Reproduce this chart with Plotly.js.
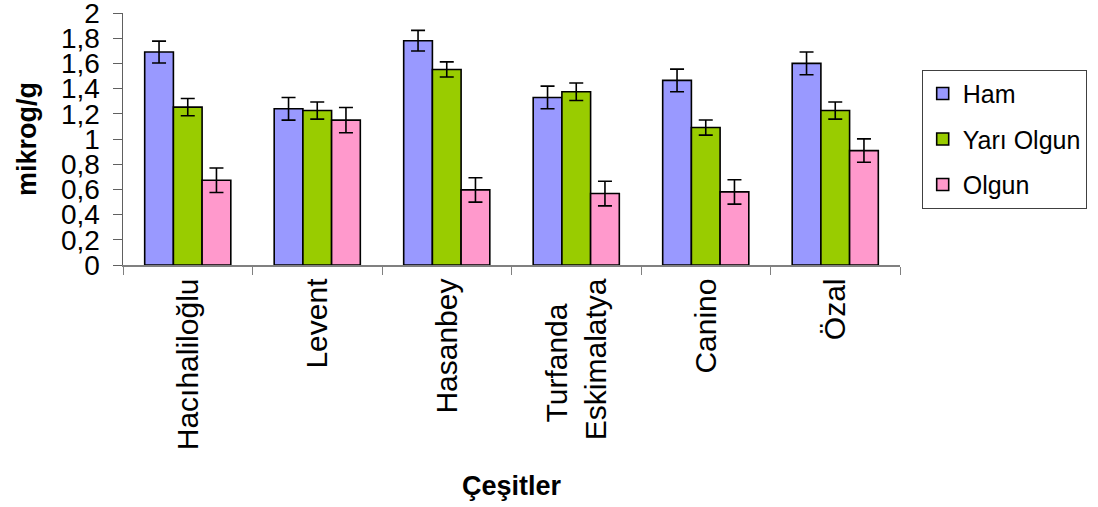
<!DOCTYPE html>
<html>
<head>
<meta charset="utf-8">
<script src="https://cdn.plot.ly/plotly-3.0.1.min.js"></script>
<style>html,body{margin:0;padding:0;background:#fff;}#chart{width:1098px;height:507px;}</style>
</head>
<body>
<div id="chart"></div>
<script>
const categories = ["Hacıhaliloğlu", "Levent", "Hasanbey", "Turfanda\u00A0\u00A0\u00A0<br>Eskimalatya", "Canino", "Özal"];
const seriesNames = ["Ham", "Yarı Olgun", "Olgun"];
const hamValues = [1.69, 1.24, 1.78, 1.33, 1.465, 1.60];
const hamErrors = [0.087, 0.09, 0.082, 0.09, 0.09, 0.09];
const yariValues = [1.253, 1.226, 1.552, 1.375, 1.091, 1.226];
const yariErrors = [0.068, 0.068, 0.06, 0.069, 0.06, 0.068];
const olgunValues = [0.673, 1.15, 0.596, 0.567, 0.58, 0.908];
const olgunErrors = [0.097, 0.1, 0.097, 0.098, 0.097, 0.093];
const yTicks = [0, 0.2, 0.4, 0.6, 0.8, 1, 1.2, 1.4, 1.6, 1.8, 2];

const colors = ["#9999FF", "#99CC00", "#FF99CC"];
const vals = [hamValues, yariValues, olgunValues];
const errs = [hamErrors, yariErrors, olgunErrors];

const traces = seriesNames.map((name, i) => ({
  type: "bar",
  name: name,
  x: categories,
  y: vals[i],
  legendgroup: "g" + i,
  marker: {color: colors[i], line: {color: "#000", width: 1.6}},
  error_y: {type: "data", array: errs[i], visible: true, color: "#000", thickness: 1.6, width: 7}
}));

const layout = {
  width: 1098, height: 507,
  margin: {l: 123, r: 197, t: 13, b: 242},
  paper_bgcolor: "#fff", plot_bgcolor: "#fff",
  separators: ", ",
  font: {family: "Liberation Sans, Arial, sans-serif", color: "#000"},
  barmode: "group",
  bargap: 0.335,
  bargroupgap: 0,
  showlegend: true,
  legend: {
    x: 1.0266, xanchor: "left", y: 0.775, yanchor: "top",
    bordercolor: "#404040", borderwidth: 1, bgcolor: "#fff",
    font: {size: 25, family: "Liberation Sans, Arial, sans-serif"},
    traceorder: "grouped", tracegroupgap: 10,
    itemwidth: 30
  },
  xaxis: {
    type: "category",
    tickangle: -90,
    tickfont: {size: 30},
    ticklabeloverflow: "allow",
    showline: true, linecolor: "#808080", linewidth: 1.5,
    ticks: "outside", tickson: "boundaries", ticklen: 8, tickcolor: "#808080",
    showgrid: false, zeroline: false,
    title: {text: "<b>Çeşitler</b>", font: {size: 27}, standoff: 27},
    automargin: false
  },
  yaxis: {
    range: [0, 2.0001],
    tickvals: yTicks,
    tickfont: {size: 28},
    ticklabelstandoff: 7,
    ticklabeloverflow: "allow",
    showline: true, linecolor: "#606060", linewidth: 1.5,
    ticks: "outside", ticklen: 9, tickcolor: "#606060",
    showgrid: false, zeroline: false,
    title: {text: "<b>mikrog/g</b>", font: {size: 27}, standoff: 16},
    automargin: false
  }
};

Plotly.newPlot("chart", traces, layout, {displayModeBar: false, staticPlot: true});
</script>
</body>
</html>
